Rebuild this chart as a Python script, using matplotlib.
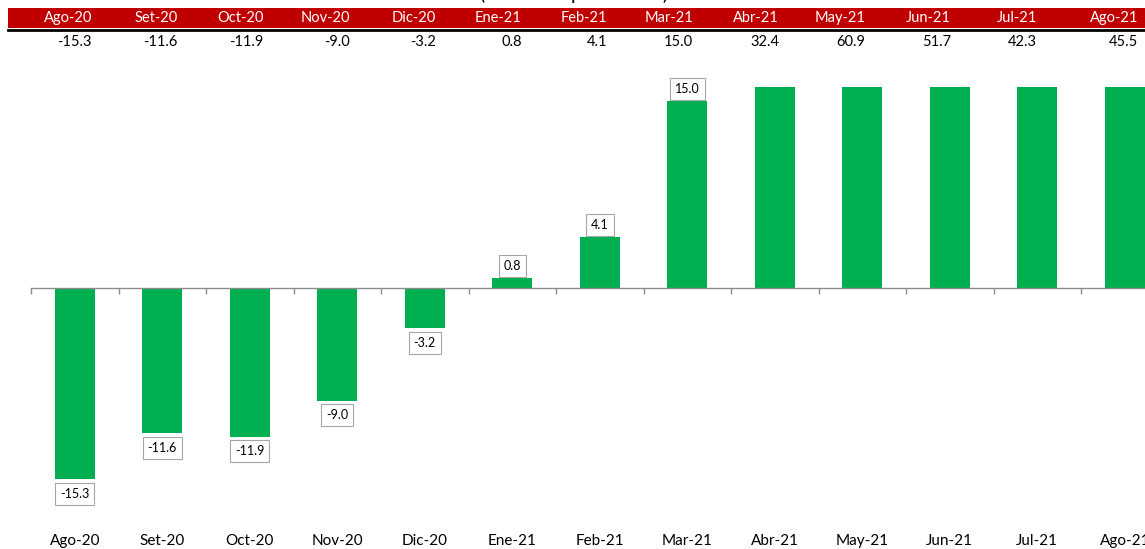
import matplotlib
matplotlib.use("Agg")
import matplotlib.pyplot as plt
from matplotlib.patches import Rectangle
from matplotlib.lines import Line2D
from matplotlib.transforms import blended_transform_factory
import numpy as np

plt.rcParams['font.family'] = ['Lato', 'DejaVu Sans']

months = ['Ago-20', 'Set-20', 'Oct-20', 'Nov-20', 'Dic-20', 'Ene-21', 'Feb-21',
          'Mar-21', 'Abr-21', 'May-21', 'Jun-21', 'Jul-21', 'Ago-21']
values = [-15.3, -11.6, -11.9, -9.0, -3.2, 0.8, 4.1,
          15.0, 32.4, 60.9, 51.7, 42.3, 45.5]
title = '(Variación porcentual)'

W, H = 1145, 549
GREEN = '#00B050'
RED = '#C00000'


def fx(px):
    return px / W


def fy(py):
    return 1 - py / H


fig = plt.figure(figsize=(W / 100, H / 100), dpi=100)

# title, mostly cut off at the top
fig.text(fx(574), fy(-6), title, ha='center', va='center', fontsize=14, color='black')

# red header band with month names, values row underneath
fig.add_artist(Rectangle((fx(8), fy(28)), fx(W - 8), 20 / H, transform=fig.transFigure,
                         facecolor=RED, edgecolor='none'))
fig.add_artist(Line2D([fx(8), 1], [fy(29.5), fy(29.5)], transform=fig.transFigure,
                      color='black', lw=2))
for i, (m, v) in enumerate(zip(months, values)):
    xr = 92 + 85.9 * i if i < 12 else 1138
    fig.text(fx(xr), fy(18), m, ha='right', va='center', fontsize=10.5, color='white')
    fig.text(fx(xr), fy(42), f'{v:.1f}', ha='right', va='center', fontsize=10.5, color='black')

# bar chart
ax = fig.add_axes([fx(31), fy(525.5), (13 * 87.5) / W, (525.5 - 86.75) / H])
x = np.arange(len(values))
ax.bar(x, values, width=0.46, color=GREEN)
ax.set_xlim(-0.5, 12.5)
ax.set_ylim(-19, 16.1)

for s in ['top', 'right', 'left']:
    ax.spines[s].set_visible(False)
ax.spines['bottom'].set_position(('data', 0))
ax.spines['bottom'].set_color('#8c8c8c')
ax.spines['bottom'].set_linewidth(1)
ax.set_yticks([])
ax.set_xticks(np.arange(-0.5, 13, 1))
ax.tick_params(axis='x', length=4, width=1, color='#8c8c8c', labelbottom=False)

top = ax.get_ylim()[1]
for xi, v in zip(x, values):
    if v > top:
        continue
    off = 8.5 if v >= 0 else -10.5
    ax.annotate(f'{v:.1f}', (xi, v), xytext=(0, off), textcoords='offset points',
                ha='center', va='center', fontsize=9,
                bbox=dict(boxstyle='square,pad=0.4', fc='white', ec='#a6a6a6', lw=0.8))

trans = blended_transform_factory(ax.transData, fig.transFigure)
for xi, m in zip(x, months):
    ax.text(xi, fy(541), m, transform=trans, ha='center', va='center',
            fontsize=11, color='black')

fig.savefig('out.png', dpi=100)
